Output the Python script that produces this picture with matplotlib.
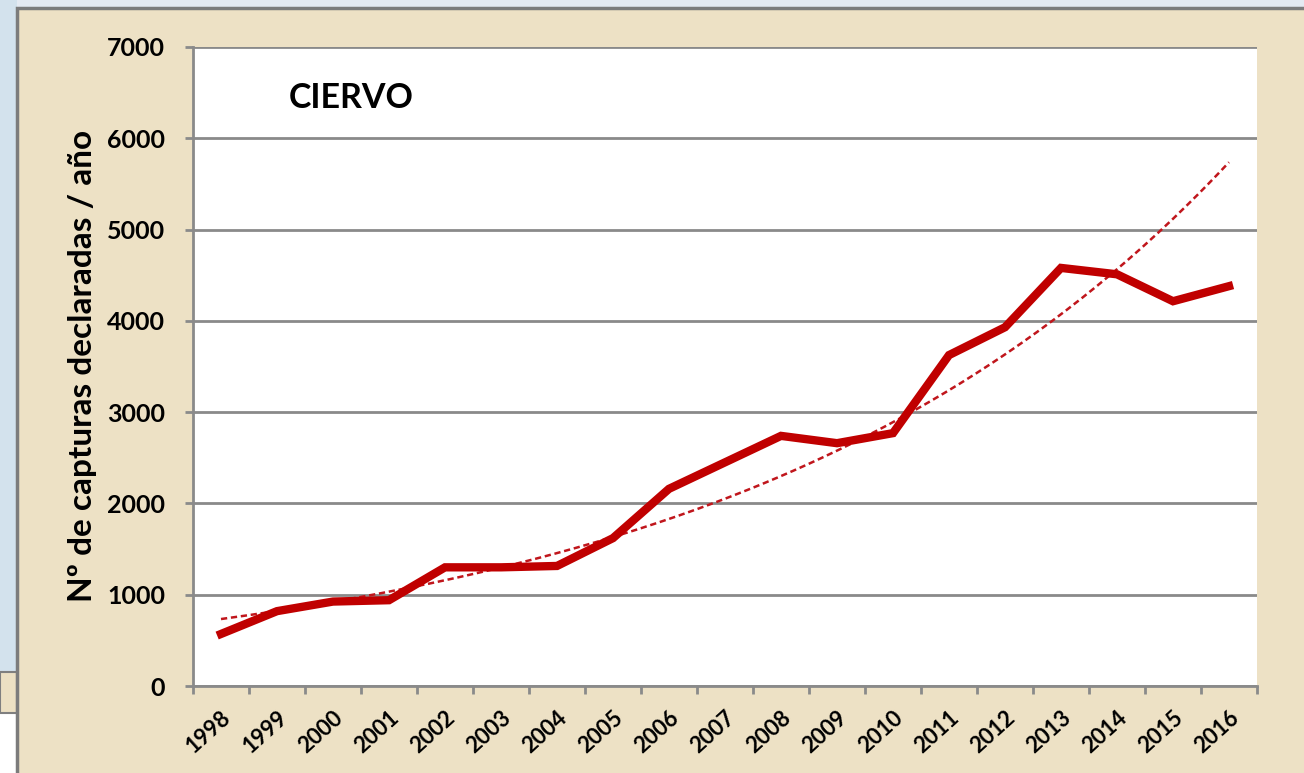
import numpy as np
import matplotlib.pyplot as plt
from matplotlib.patches import Rectangle

years = ['1998', '1999', '2000', '2001', '2002', '2003', '2004', '2005', '2006', '2007',
         '2008', '2009', '2010', '2011', '2012', '2013', '2014', '2015', '2016']
capturas = [570, 820, 925, 940, 1300, 1300, 1315, 1620, 2160, 2450,
            2740, 2660, 2770, 3625, 3930, 4580, 4510, 4215, 4380]
yticks = [0, 1000, 2000, 3000, 4000, 5000, 6000, 7000]

W, H = 1304, 773
plt.rcParams['font.family'] = ['Lato', 'DejaVu Sans']
plt.rcParams['font.weight'] = 'bold'

fig = plt.figure(figsize=(W / 100, H / 100), dpi=100, facecolor='white')

def px_rect(x0, y0, x1, y1, z, **kw):
    # rectangle given in pixel coords (origin top-left)
    r = Rectangle((x0 / W, 1 - y1 / H), (x1 - x0) / W, (y1 - y0) / H,
                  transform=fig.transFigure, zorder=z, **kw)
    fig.patches.append(r)

# slide background around the chart
px_rect(0, 0, W, 9, -3, facecolor='#e4eaf2', edgecolor='none')
px_rect(0, 0, 17, 672, -3, facecolor='#d3e2ed', edgecolor='none')
px_rect(0, 672, 17, 713, -3, facecolor='#ece0c3', edgecolor='#7f7f7f', linewidth=1.5)
# parchment chart area
px_rect(17, 8, W + 5, H + 5, -2, facecolor='#ede1c5', edgecolor='#7c7c7c', linewidth=2.5)

ax = fig.add_axes([193 / W, 1 - 686 / H, (1257 - 193) / W, (686 - 47) / H])
ax.set_facecolor('white')
x = np.arange(len(years))

# exponential trendline (least squares on log values, like Excel)
b, a = np.polyfit(x, np.log(capturas), 1)
xt = np.linspace(0, len(years) - 1, 200)
ax.plot(xt, np.exp(a + b * xt), color='#c0161c', lw=1.8, ls=(0, (2.5, 1.5)), zorder=3)

ax.plot(x, capturas, color='#c00000', lw=6, solid_joinstyle='miter', zorder=4)

ax.set_xlim(-0.5, len(years) - 0.5)
ax.set_ylim(0, 7000)
ax.set_yticks(yticks)
ax.set_yticklabels([str(v) for v in yticks], fontsize=18, fontweight='bold')
ax.yaxis.grid(True, color='#8a8a8a', lw=2)
ax.set_axisbelow(True)

ax.set_xticks(x)
ax.set_xticklabels(years, fontsize=16, fontweight='bold', rotation=42,
                   ha='right', va='top', rotation_mode='anchor')
ax.set_xticks(np.arange(len(years) + 1) - 0.5, minor=True)
ax.tick_params(axis='x', which='major', length=0, pad=15)
ax.tick_params(axis='x', which='minor', length=6, width=2, color='#8a8a8a')
ax.tick_params(axis='y', length=6, width=2, color='#8a8a8a', pad=14)

for s in ['top', 'right']:
    ax.spines[s].set_visible(False)
for s in ['left', 'bottom']:
    ax.spines[s].set_color('#8a8a8a')
    ax.spines[s].set_linewidth(2)

ax.text(0.09, 0.92, 'CIERVO', transform=ax.transAxes, fontsize=24.5, fontweight='bold',
        ha='left', va='center')

fig.text(83 / W, 1 - 366 / H, 'Nº de capturas declaradas / año', rotation=90,
         fontsize=24, fontweight='bold', ha='center', va='center')

fig.savefig('out.png', dpi=100, facecolor=fig.get_facecolor())
